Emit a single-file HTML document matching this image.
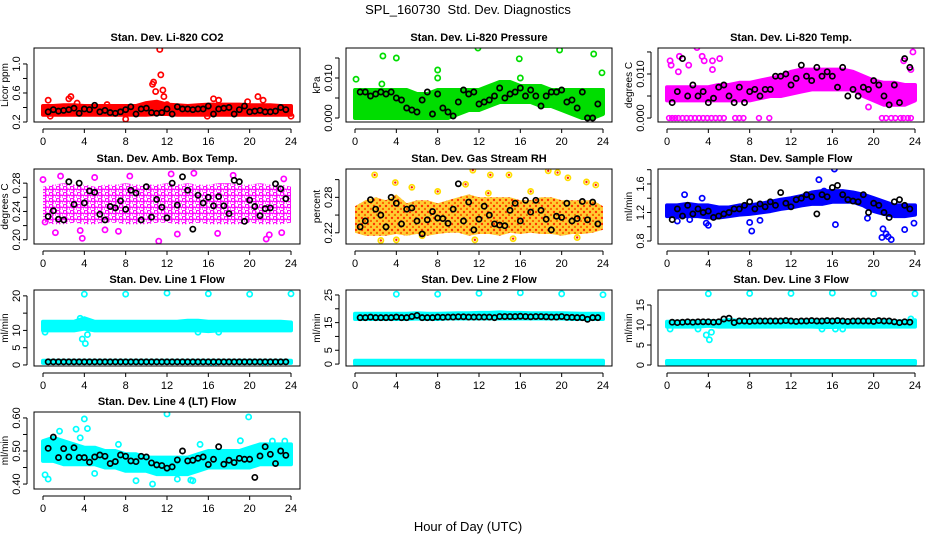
<!DOCTYPE html>
<html><head><meta charset="utf-8">
<style>
html,body{margin:0;padding:0;background:#fff;}
svg{display:block;font-family:"Liberation Sans",Arial,sans-serif;}
</style></head>
<body>
<svg id="chart" width="936" height="540" viewBox="0 0 936 540" xmlns="http://www.w3.org/2000/svg">
<defs>
<pattern id="pat-mag" width="7" height="6" patternUnits="userSpaceOnUse">
<circle cx="2" cy="2" r="1.8" fill="none" stroke="#ff00ff" stroke-width="1.4"/>
<circle cx="5.5" cy="5" r="1.8" fill="none" stroke="#ff00ff" stroke-width="1.4"/>
</pattern>
<pattern id="pat-rh" width="6" height="6" patternUnits="userSpaceOnUse">
<rect width="6" height="6" fill="#ffcc33"/>
<circle cx="2" cy="2" r="1.2" fill="#ff3300"/>
<circle cx="5" cy="5" r="1.2" fill="#ff6600"/>
</pattern>
</defs>
<text x="468" y="14" text-anchor="middle" font-size="13">SPL_160730&#160; Std. Dev. Diagnostics</text>
<text x="468" y="531" text-anchor="middle" font-size="13">Hour of Day (UTC)</text>
</svg>
<script>
// shared hour positions of the black (hourly-average) markers
const blackHours=[0.5,1,1.5,2,2.5,3,3.5,4,4.5,5,5.5,6,6.5,7,7.5,8,8.5,9,9.5,10,10.5,11,11.5,12,12.5,13,13.5,14,14.5,15,15.5,16,16.5,17,17.5,18,18.5,19,19.5,20,20.5,21,21.5,22,22.5,23,23.5];
const bandHours=[0,1,2,3,4,5,6,7,8,9,10,11,12,13,14,15,16,17,18,19,20,21,22,23,24];
const xTicks=[0,4,8,12,16,20,24];

// CO2
const co2BandLow=[0.30,0.30,0.30,0.30,0.30,0.30,0.30,0.30,0.30,0.30,0.30,0.31,0.31,0.30,0.30,0.30,0.30,0.30,0.30,0.30,0.30,0.30,0.30,0.30,0.30];
const co2BandHigh=[0.42,0.42,0.43,0.43,0.42,0.42,0.42,0.42,0.42,0.42,0.46,0.48,0.44,0.43,0.42,0.43,0.44,0.44,0.44,0.44,0.43,0.43,0.43,0.42,0.42];
const co2OutX=[0.5,0.7,2.5,2.7,3.3,8,10.6,10.7,10.9,11.3,11.4,11.6,11.7,15.9,16.5,17,20.8,21.3,24,6.2,12,19.8];
const co2OutY=[0.50,0.28,0.52,0.55,0.46,0.24,0.72,0.75,0.62,1.20,0.85,0.64,0.55,0.28,0.52,0.50,0.55,0.50,0.28,0.44,0.44,0.48];
const co2Black=[0.34,0.37,0.35,0.36,0.37,0.39,0.32,0.38,0.37,0.43,0.34,0.36,0.33,0.32,0.34,0.37,0.41,0.31,0.38,0.39,0.33,0.32,0.33,0.38,0.31,0.41,0.38,0.38,0.37,0.38,0.38,0.42,0.31,0.38,0.39,0.40,0.31,0.37,0.42,0.34,0.35,0.36,0.34,0.34,0.35,0.40,0.37];

// Pressure
const prBandLow=[0,0,0,0,0,0,0,0,0,0,0.001,0.002,0.002,0.003,0.004,0.004,0.004,0.004,0.003,0.003,0.002,0.001,0,0,0.001];
const prBandHigh=[0.007,0.007,0.007,0.007,0.007,0.007,0.006,0.006,0.007,0.007,0.007,0.007,0.007,0.008,0.009,0.009,0.008,0.008,0.008,0.007,0.007,0.007,0.007,0.007,0.007];
const prOutX=[0.1,2.7,4,8,8,11.9,15.9,16,19.8,23.1,23.9,2.6];
const prOutY=[0.0097,0.0155,0.0150,0.0120,0.0100,0.0175,0.0148,0.0100,0.0170,0.0160,0.0113,0.0085];
const prBlack=[0.0065,0.0065,0.0055,0.006,0.0065,0.006,0.0065,0.005,0.0045,0.0025,0.002,0.0015,0.0045,0.0065,0.001,0.006,0.0025,0.0015,0.0005,0.004,0.007,0.006,0.0065,0.0035,0.004,0.0045,0.0055,0.0075,0.005,0.006,0.0065,0.0075,0.0055,0.007,0.0055,0.003,0.0055,0.0065,0.0065,0.007,0.004,0.0045,0.0025,0.0065,0,0,0.0035];

// Li-820 Temp
const tpBandLow=[0.004,0.004,0.004,0.004,0.004,0.004,0.004,0.004,0.004,0.0045,0.005,0.005,0.0055,0.006,0.0065,0.0065,0.0065,0.0065,0.0065,0.005,0.004,0.003,0.003,0.003,0.004];
const tpBandHigh=[0.007,0.007,0.007,0.007,0.007,0.0075,0.0075,0.008,0.008,0.0085,0.009,0.0095,0.0105,0.011,0.011,0.011,0.011,0.011,0.0105,0.0095,0.0085,0.008,0.008,0.0075,0.0075];
const tpZeroX=[0.2,0.5,0.8,1.1,1.5,1.9,2.3,2.7,3.1,3.5,3.9,4.3,4.7,5.1,5.5,6.6,7,7.4,8.9,9.9,20.8,21.2,21.7,22.1,22.6,22.9,23.3,23.6];
const tpOutX=[0.3,0.4,1.2,2.1,2.9,3.4,3.6,4.4,5.1,4.4,19.5,22.9,23.8,23.6,1.1];
const tpOutY=[0.013,0.012,0.014,0.012,0.016,0.014,0.013,0.013,0.0135,0.011,0.0025,0.013,0.015,0.011,0.0105];
const tpBlack=[0.0035,0.006,0.0135,0.005,0.0075,0.005,0.006,0.0035,0.0045,0.007,0.0075,0.005,0.0035,0.007,0.0035,0.006,0.0065,0.005,0.0065,0.0065,0.0095,0.0095,0.01,0.0075,0.009,0.012,0.0095,0.0085,0.0115,0.0095,0.0105,0.0095,0.007,0.0115,0.005,0.0065,0.005,0.007,0.0065,0.0085,0.0075,0.005,0.003,0.0075,0.0035,0.0135,0.0115];

// Amb Box Temp
const btBandLow=[0.225,0.222,0.222,0.224,0.222,0.222,0.224,0.224,0.222,0.222,0.222,0.224,0.224,0.222,0.222,0.224,0.222,0.222,0.222,0.222,0.224,0.222,0.222,0.222,0.224];
const btBandHigh=[0.275,0.278,0.28,0.278,0.278,0.275,0.278,0.278,0.28,0.278,0.278,0.278,0.28,0.278,0.28,0.278,0.278,0.28,0.28,0.278,0.278,0.28,0.278,0.278,0.275];
const btOutX=[0,1.7,3.8,11.2,12.4,14.6,21.6,5,18.4,23.3,1.2,7.3,16.9,23.1,0.2,3.6,13,21.9,8.4,6];
const btOutY=[0.285,0.29,0.202,0.198,0.293,0.294,0.201,0.288,0.291,0.286,0.21,0.212,0.209,0.21,0.225,0.213,0.208,0.207,0.29,0.214];
const btBlack=[0.233,0.241,0.229,0.228,0.282,0.25,0.28,0.252,0.269,0.267,0.236,0.228,0.247,0.245,0.255,0.243,0.27,0.266,0.228,0.275,0.232,0.257,0.246,0.231,0.28,0.249,0.289,0.27,0.215,0.263,0.252,0.26,0.248,0.261,0.248,0.237,0.284,0.282,0.226,0.256,0.247,0.234,0.244,0.245,0.279,0.272,0.258];

// Gas Stream RH
const rhBandLow=[0.22,0.215,0.215,0.215,0.218,0.215,0.218,0.215,0.218,0.22,0.22,0.215,0.218,0.218,0.215,0.22,0.218,0.22,0.218,0.218,0.215,0.218,0.218,0.22,0.225];
const rhBandHigh=[0.265,0.275,0.28,0.275,0.285,0.27,0.275,0.275,0.27,0.275,0.28,0.285,0.28,0.28,0.28,0.28,0.275,0.275,0.28,0.28,0.275,0.275,0.275,0.275,0.265];
const rhOutX=[1.9,3.9,4,5.5,10.7,11.4,13.1,14.9,18.7,19.6,20.6,22.4,23.3,2.5,11.6,15.3,6.5,12.9,17,8,21.5];
const rhOutY=[0.318,0.305,0.208,0.297,0.302,0.326,0.318,0.318,0.325,0.322,0.313,0.306,0.301,0.207,0.208,0.21,0.215,0.287,0.29,0.29,0.212];
const rhBlack=[0.23,0.24,0.276,0.26,0.25,0.23,0.28,0.27,0.235,0.26,0.262,0.24,0.218,0.242,0.256,0.245,0.244,0.236,0.26,0.303,0.24,0.272,0.225,0.243,0.265,0.25,0.235,0.233,0.232,0.258,0.27,0.24,0.275,0.255,0.275,0.258,0.243,0.225,0.248,0.246,0.27,0.24,0.244,0.273,0.242,0.272,0.235];

// Sample Flow
const sfBandLow=[1.15,1.15,1.15,1.15,1.13,1.13,1.15,1.17,1.18,1.2,1.22,1.25,1.27,1.3,1.32,1.32,1.35,1.35,1.35,1.3,1.22,1.18,1.15,1.15,1.17];
const sfBandHigh=[1.3,1.3,1.32,1.3,1.3,1.27,1.27,1.3,1.3,1.32,1.35,1.38,1.4,1.43,1.48,1.5,1.5,1.5,1.48,1.45,1.4,1.35,1.3,1.3,1.3];
const sfOutX=[1.7,3.4,3.8,4,8,8.2,9,14.7,16.2,16.3,20.9,21.2,21.4,21.7,20.8,23,23.9,19.4,15.2,1,2.2];
const sfOutY=[1.45,1.4,1.05,1.02,1.06,0.94,1.09,1.66,1.81,1.03,0.97,0.9,0.86,0.82,0.85,0.96,1.05,1.12,1.5,1.08,1.1];
const sfBlack=[1.1,1.25,1.15,1.3,1.18,1.25,1.2,1.22,1.13,1.15,1.18,1.2,1.25,1.25,1.3,1.35,1.25,1.32,1.28,1.35,1.3,1.48,1.33,1.28,1.38,1.4,1.45,1.42,1.18,1.45,1.42,1.55,1.58,1.45,1.38,1.36,1.35,1.45,1.2,1.33,1.3,1.2,1.13,1.35,1.38,1.3,1.25];

// Line 1 Flow
const l1BandLow=[10,10,10,10,10.5,10,10,10,10,10,10,10,10,10,10,10,9.8,10,10,10,10,10,10,10,10];
const l1BandHigh=[12.5,12.5,12.5,12.5,13.5,12.5,12.5,12.5,12.5,12.5,12.5,12.5,12.5,12.5,12.8,12.8,12.5,12.5,12.5,12.5,12.5,12.5,12.5,12.5,12.3];
const l1LowBandLow=[0.6,0.6,0.6,0.6,0.6,0.6,0.6,0.6,0.6,0.6,0.6,0.6,0.6,0.6,0.6,0.6,0.6,0.6,0.6,0.6,0.6,0.6,0.6,0.6,0.6];
const l1LowBandHigh=[1.2,1.2,1.2,1.2,1.2,1.2,1.2,1.2,1.2,1.2,1.2,1.2,1.2,1.2,1.2,1.2,1.2,1.2,1.2,1.2,1.2,1.2,1.2,1.2,1.2];
const l1OutX=[4,8,12,16,20,24,3.6,3.8,4.1,4.3,0.2,16.5,21.5,15,17];
const l1OutY=[20.5,20.5,20.8,20.6,20.5,20.6,13.5,7.5,6.2,8.8,9.5,0.2,0.2,9.5,9.5];
const l1Black=[0.9,0.9,0.9,0.9,0.9,0.9,0.9,0.9,0.9,0.9,0.9,0.9,0.9,0.9,0.9,0.9,0.9,0.9,0.9,0.9,0.9,0.9,0.9,0.9,0.9,0.9,0.9,0.9,0.9,0.9,0.9,0.9,0.9,0.9,0.9,0.9,0.9,0.9,0.9,0.9,0.9,0.9,0.9,0.9,0.9,0.9,0.9];

// Line 2 Flow
const l2BandLow=[16.3,16.3,16.3,16.3,16.3,16.3,16.5,16.3,16.3,16.5,16.5,16.5,16.5,16.5,16.5,16.5,16.5,16.5,16.5,16.5,16.5,16.3,16.3,16.3,16.3];
const l2BandHigh=[18.2,18.2,18.2,18.2,18.2,18.2,18.4,18.2,18.2,18.3,18.4,18.4,18.5,18.5,18.7,18.5,18.5,18.4,18.4,18.4,18.4,18.3,18.2,18.2,18.2];
const l2LowBandLow=[0,0,0,0,0,0,0,0,0,0,0,0,0,0,0,0,0,0,0,0,0,0,0,0,0];
const l2LowBandHigh=[1.2,1.2,1.2,1.2,1.2,1.2,1.2,1.2,1.2,1.2,1.2,1.2,1.2,1.2,1.2,1.2,1.2,1.2,1.2,1.2,1.2,1.2,1.2,1.2,1.2];
const l2OutX=[4,8,12,16,20,24];
const l2OutY=[25.3,25.3,25.6,25.8,25.4,25.1];
const l2Black=[16.8,16.8,17,16.8,16.8,16.8,16.8,17,16.8,16.8,17.2,17.6,16.8,16.8,16.8,17,16.9,17,17,17.1,17.1,17,17,17,17,17,16.8,17.2,17.2,17.2,17.2,17.3,17.2,17.1,17.2,17.2,17.1,17,17,17.2,16.9,16.9,16.8,16.8,16.2,16.8,16.8];

// Line 3 Flow
const l3BandLow=[9.6,9.6,9.6,9.6,9.8,9.6,9.6,9.6,9.6,9.6,9.6,9.6,9.6,9.6,9.6,9.5,9.5,9.6,9.6,9.6,9.6,9.6,9.6,9.6,9.6];
const l3BandHigh=[10.8,10.8,10.9,10.9,11,10.9,11.3,11,11,11,11,11,11,11,11.1,11.2,11.1,11,11,11,11,11,10.9,10.9,11.2];
const l3LowBandLow=[0.3,0.3,0.3,0.3,0.3,0.3,0.3,0.3,0.3,0.3,0.3,0.3,0.3,0.3,0.3,0.3,0.3,0.3,0.3,0.3,0.3,0.3,0.3,0.3,0.3];
const l3LowBandHigh=[1,1,1,1,1,1,1,1,1,1,1,1,1,1,1,1,1,1,1,1,1,1,1,1,1];
const l3OutX=[4,8,12,16,20,24,3.8,4.1,4.3,3,0.3,15,16.3,17,23.6];
const l3OutY=[17.8,17.9,17.9,18,17.8,17.8,7.5,6.3,8.2,9,9,9,9,9,11.5];
const l3Black=[10.7,10.6,10.7,10.8,10.7,10.8,10.8,10.8,10.7,10.8,11.5,11.7,10.6,11,11,10.9,11,11,11,11,11,11,11.1,11,10.9,11,11,11.1,11,11,11.1,11,11.1,11,10.9,11,11,11,11,10.9,11.1,11,11,10.8,10.6,10.8,10.7];

// Line 4 (LT) Flow
const l4BandLow=[0.47,0.47,0.46,0.46,0.46,0.46,0.45,0.45,0.44,0.44,0.44,0.43,0.43,0.43,0.43,0.44,0.45,0.45,0.45,0.45,0.45,0.46,0.46,0.46,0.46];
const l4BandHigh=[0.53,0.54,0.53,0.52,0.51,0.51,0.5,0.5,0.49,0.49,0.48,0.48,0.48,0.48,0.48,0.49,0.5,0.5,0.5,0.5,0.51,0.52,0.52,0.52,0.52];
const l4OutX=[0.2,0.5,3.2,3.6,4,4.3,5,10.6,12,14.5,14.3,19.1,19.9,9,13,1.6,7.3,15.2,22.2,23.4];
const l4OutY=[0.428,0.415,0.566,0.54,0.597,0.568,0.432,0.40,0.612,0.41,0.412,0.531,0.603,0.41,0.415,0.56,0.52,0.52,0.53,0.53];
const l4Black=[0.508,0.542,0.48,0.507,0.482,0.51,0.48,0.48,0.466,0.482,0.488,0.484,0.462,0.468,0.488,0.484,0.47,0.468,0.484,0.482,0.464,0.458,0.456,0.448,0.452,0.473,0.50,0.47,0.472,0.478,0.482,0.459,0.475,0.513,0.46,0.472,0.465,0.478,0.475,0.475,0.42,0.485,0.513,0.49,0.462,0.50,0.487];

const NS="http://www.w3.org/2000/svg";
const svg=document.getElementById('chart');
function mk(tag,attrs,parent){const e=document.createElementNS(NS,tag);for(const k in attrs)e.setAttribute(k,attrs[k]);(parent||svg).appendChild(e);return e;}

const cols=[34,346,658], rows=[48,169,290,412], W=266;
const panels=[
 {name:'co2',title:'Stan. Dev. Li-820 CO2',ylab:'Licor ppm',c:0,r:0,h:74,lo:0.2,hi:1.22,ticks:[0.2,0.4,0.6,0.8,1.0],labs:['0.2','','0.6','','1.0'],col:'#ff0000',bands:[[co2BandLow,co2BandHigh]],out:[co2OutX,co2OutY],black:co2Black},
 {name:'pressure',title:'Stan. Dev. Li-820 Pressure',ylab:'kPa',c:1,r:0,h:74,lo:-0.001,hi:0.0175,ticks:[0,0.005,0.010,0.015],labs:['0.000','','0.010',''],col:'#00dd00',bands:[[prBandLow,prBandHigh]],out:[prOutX,prOutY],black:prBlack},
 {name:'temp',title:'Stan. Dev. Li-820 Temp.',ylab:'degrees C',c:2,r:0,h:74,lo:-0.0009,hi:0.0159,ticks:[0,0.005,0.010,0.015],labs:['0.000','','0.010',''],col:'#ff00ff',bands:[[tpBandLow,tpBandHigh]],out:[tpOutX,tpOutY],zero:tpZeroX,black:tpBlack},
 {name:'box-temp',title:'Stan. Dev. Amb. Box Temp.',ylab:'degrees C',c:0,r:1,h:75,lo:0.194,hi:0.30,ticks:[0.20,0.22,0.24,0.26,0.28],labs:['0.20','','0.24','','0.28'],col:'#ff00ff',fill:'url(#pat-mag)',bands:[[btBandLow,btBandHigh]],out:[btOutX,btOutY],black:btBlack},
 {name:'gas-rh',title:'Stan. Dev. Gas Stream RH',ylab:'percent',c:1,r:1,h:75,lo:0.201,hi:0.328,ticks:[0.22,0.25,0.28,0.31],labs:['0.22','','0.28',''],col:'#ff9900',stroke:'#ffdd00',fill:'url(#pat-rh)',bands:[[rhBandLow,rhBandHigh]],out:[rhOutX,rhOutY],black:rhBlack},
 {name:'sample-flow',title:'Stan. Dev. Sample Flow',ylab:'ml/min',c:2,r:1,h:75,lo:0.758,hi:1.81,ticks:[0.8,1.0,1.2,1.4,1.6,1.8],labs:['0.8','','1.2','','1.6',''],col:'#0000ff',bands:[[sfBandLow,sfBandHigh]],out:[sfOutX,sfOutY],black:sfBlack},
 {name:'line1-flow',title:'Stan. Dev. Line 1 Flow',ylab:'ml/min',c:0,r:2,h:76,lo:-0.3,hi:21.7,ticks:[0,5,10,15,20],labs:['0','5','10','','20'],col:'#00ffff',bands:[[l1BandLow,l1BandHigh],[l1LowBandLow,l1LowBandHigh]],out:[l1OutX,l1OutY],black:l1Black},
 {name:'line2-flow',title:'Stan. Dev. Line 2 Flow',ylab:'ml/min',c:1,r:2,h:76,lo:-0.7,hi:26.8,ticks:[0,5,10,15,20,25],labs:['0','5','','15','','25'],col:'#00ffff',bands:[[l2BandLow,l2BandHigh],[l2LowBandLow,l2LowBandHigh]],out:[l2OutX,l2OutY],black:l2Black},
 {name:'line3-flow',title:'Stan. Dev. Line 3 Flow',ylab:'ml/min',c:2,r:2,h:76,lo:-0.25,hi:18.75,ticks:[0,5,10,15],labs:['0','5','10','15'],col:'#00ffff',bands:[[l3BandLow,l3BandHigh],[l3LowBandLow,l3LowBandHigh]],out:[l3OutX,l3OutY],black:l3Black},
 {name:'line4-flow',title:'Stan. Dev. Line 4 (LT) Flow',ylab:'ml/min',c:0,r:3,h:77,lo:0.385,hi:0.618,ticks:[0.40,0.45,0.50,0.55,0.60],labs:['0.40','','0.50','','0.60'],col:'#00ffff',bands:[[l4BandLow,l4BandHigh]],out:[l4OutX,l4OutY],black:l4Black}
];

panels.forEach(p=>{
  const L=cols[p.c], T=rows[p.r], H=p.h, B=T+H;
  const xs=v=>L+9+v*(248/24);
  const ys=v=>B-(v-p.lo)/(p.hi-p.lo)*H;
  const g=mk('g',{});
  
  
  const t=mk('text',{x:L+W/2,y:T-7,'text-anchor':'middle','font-size':'11','font-weight':'bold'},g);
  t.textContent=p.title;
  
  
  const clip=mk('clipPath',{id:'clip-'+p.name},g);
  mk('rect',{x:L,y:T,width:W,height:H},clip);
  const plot=mk('g',{'clip-path':'url(#clip-'+p.name+')'},g);
  const stroke=p.stroke||p.col;
  p.bands.forEach((b,i)=>{
    let d='';
    bandHours.forEach((h,j)=>{d+=(j?'L':'M')+xs(h).toFixed(1)+','+ys(b[1][j]).toFixed(1);});
    for(let j=bandHours.length-1;j>=0;j--)d+='L'+xs(bandHours[j]).toFixed(1)+','+ys(b[0][j]).toFixed(1);
    const pa=mk('path',{d:d+'Z',fill:p.fill||p.col,stroke:p.fill?'none':stroke,'stroke-width':'4','stroke-linejoin':'round'},plot);
    
    
  });
  if(p.zero){p.zero.forEach(h=>{
    const c=mk('circle',{cx:xs(h),cy:ys(0),r:2.4,fill:'none',stroke:p.col,'stroke-width':'1.6'},plot);
    
    
  });}
  p.out[0].forEach((h,i)=>{
    const c=mk('circle',{cx:xs(h),cy:ys(p.out[1][i]),r:2.6,fill:'none',stroke:stroke,'stroke-width':'1.7'},plot);
    
    
    if(p.stroke){mk('circle',{cx:xs(h),cy:ys(p.out[1][i]),r:1.2,fill:'#ff2200'},plot);}
  });
  p.black.forEach((v,i)=>{
    const c=mk('circle',{cx:xs(blackHours[i]),cy:ys(v),r:2.6,fill:'none',stroke:'#000','stroke-width':'1.7'},plot);
    
    
  });
  const fr=mk('rect',{x:L,y:T,width:W,height:H,fill:'none',stroke:'#000','stroke-width':'1'},g);
  
  
  mk('line',{x1:xs(0),x2:xs(24),y1:B+7,y2:B+7,stroke:'#000'},g);
  xTicks.forEach(v=>{
    mk('line',{x1:xs(v),x2:xs(v),y1:B+7,y2:B+11,stroke:'#000'},g);
    const tx=mk('text',{x:xs(v),y:B+23,'text-anchor':'middle','font-size':'11'},g);
    tx.textContent=v;
    
    
  });
  mk('line',{x1:L-7,x2:L-7,y1:ys(p.ticks[0]),y2:ys(p.ticks[p.ticks.length-1]),stroke:'#000'},g);
  p.ticks.forEach((v,i)=>{
    mk('line',{x1:L-11,x2:L-7,y1:ys(v),y2:ys(v),stroke:'#000'},g);
    if(p.labs[i]){
      const tx=mk('text',{x:0,y:0,'text-anchor':'middle','font-size':'11',transform:'translate('+(L-14)+','+ys(v)+') rotate(-90)'},g);
      tx.textContent=p.labs[i];
      
      
    }
  });
  const yl=mk('text',{x:0,y:0,'text-anchor':'middle','font-size':'10',transform:'translate('+(L-26)+','+(T+H/2)+') rotate(-90)'},g);
  yl.textContent=p.ylab;
  
  
});
</script>
</body></html>
